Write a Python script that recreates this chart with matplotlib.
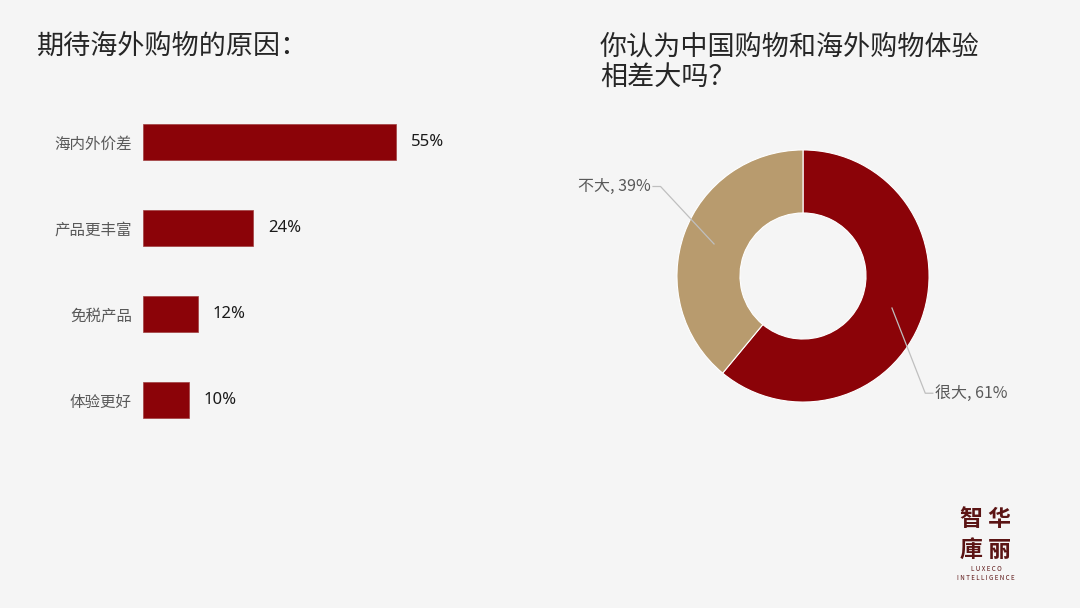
import numpy as np
import matplotlib.pyplot as plt

plt.rcParams['font.family'] = ['Noto Sans CJK SC', 'DejaVu Sans']

# data
reasons = ['海内外价差', '产品更丰富', '免税产品', '体验更好']
reason_pct = [55, 24, 12, 10]

donut_labels = ['很大', '不大']
donut_pct = [61, 39]

RED = '#8B0308'
TAN = '#B89B6E'
BG = '#F5F5F5'

W, H = 1080, 608
fig = plt.figure(figsize=(10.8, 6.08), dpi=100, facecolor=BG)


def px_axes(left, top, width, height):
    return fig.add_axes([left / W, (H - top - height) / H, width / W, height / H])


# titles
fig.text(37 / W, 1 - 46 / H, '期待海外购物的原因：', fontsize=19.5, color='#262626', va='center')
fig.text(600 / W, 1 - 62 / H, '你认为中国购物和海外购物体验\n相差大吗？', fontsize=19.5,
         color='#262626', va='center', linespacing=1.15)

# bar chart
ax = px_axes(143, 99, 460, 344)
ax.set_facecolor('none')
y = np.arange(len(reasons))
ax.barh(y, reason_pct, height=0.42, color=RED, edgecolor='#A04040', linewidth=0.5)
ax.set_xlim(0, 460 / 4.6)
ax.set_ylim(3.5, -0.5)
for yi, v in zip(y, reason_pct):
    ax.text(v + 3.2, yi, f'{v}%', va='center', ha='left', fontsize=12, color='#1a1a1a',
            family=['Noto Sans', 'DejaVu Sans'])
ax.set_yticks(y)
ax.set_yticklabels(reasons, fontsize=11.2, color='#595959')
ax.tick_params(axis='y', length=0, pad=8)
ax.set_xticks([])
for s in ax.spines.values():
    s.set_visible(False)

# donut
ax2 = px_axes(653, 126, 300, 300)
ax2.set_facecolor('none')
wedges, _ = ax2.pie(donut_pct, colors=[RED, TAN], startangle=90, counterclock=False,
                    radius=1, wedgeprops=dict(width=0.5, edgecolor='white', linewidth=0.8))
ax2.set_xlim(-1.19, 1.19)
ax2.set_ylim(-1.19, 1.19)
ax2.set_aspect('equal')
ax2.axis('off')

# leader lines and labels
label_pos = [(0.97, -0.93), (-1.13, 0.71)]
for w, name, pct, (lx, ly) in zip(wedges, donut_labels, donut_pct, label_pos):
    ang = np.deg2rad((w.theta1 + w.theta2) / 2)
    px, py = 0.75 * np.cos(ang), 0.75 * np.sin(ang)
    side = 1 if lx > 0 else -1
    ax2.plot([px, lx, lx + side * 0.06], [py, ly, ly], color='#BFBFBF', lw=0.9,
             clip_on=False)
    ax2.text(lx + side * 0.08, ly, f'{name}, {pct}%', fontsize=11.5, color='#595959',
             va='center', ha='left' if side > 0 else 'right')

# logo
logo = '#5B1414'
fig.text(986 / W, 1 - 519 / H, '智 华', fontsize=16.5, color=logo, ha='center', va='center',
         fontweight='bold')
fig.text(986 / W, 1 - 550 / H, '庫 丽', fontsize=16.5, color=logo, ha='center', va='center',
         fontweight='bold')
fig.text(986 / W, 1 - 569 / H, 'L U X E C O', fontsize=4.5, color=logo, ha='center', va='center')
fig.text(986 / W, 1 - 578 / H, 'I N T E L L I G E N C E', fontsize=4.5, color=logo,
         ha='center', va='center')

fig.savefig('out.png', dpi=100, facecolor=BG)
